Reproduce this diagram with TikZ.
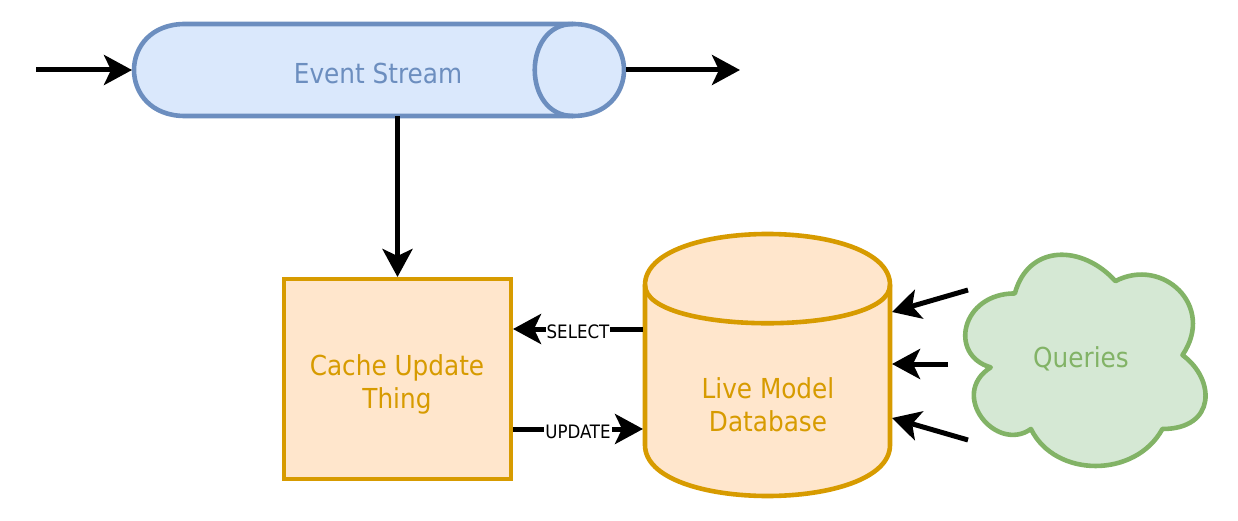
\documentclass[tikz,border=0pt]{standalone}
\usepackage{fontspec}
\newfontfamily\cond{DejaVu Sans Condensed}
\usetikzlibrary{arrows.meta,calc}
\definecolor{blueF}{HTML}{DAE8FC}
\definecolor{blueD}{HTML}{6C8EBF}
\definecolor{orangeF}{HTML}{FFE6CC}
\definecolor{orangeD}{HTML}{D79B00}
\definecolor{greenF}{HTML}{D5E8D4}
\definecolor{greenD}{HTML}{82B366}
\begin{document}
\begin{tikzpicture}[x=1pt,y=-1pt,
  holder/.style={inner sep=0pt, outer sep=0pt},
  shapeline/.style={line width=4.6pt, line join=round},
  conn/.style={line width=5pt, -{Stealth[length=28pt,width=30pt,inset=7pt]}},
  big/.style={font=\cond\fontsize{27.5}{33}\selectfont, align=center, inner sep=0pt},
  small/.style={font=\cond\fontsize{18.5}{20}\selectfont, fill=white, inner sep=1pt}
]
\useasboundingbox (0,0) rectangle (1238,521);

% ---- Event Stream (horizontal cylinder)
\draw[shapeline, draw=blueD, fill=blueF]
  (185,24) -- (573,24) .. controls (641,24) and (641,116) .. (573,116)
  -- (185,116) .. controls (117,116) and (117,24) .. (185,24) -- cycle;
\draw[shapeline, draw=blueD] (573,24) .. controls (522,24) and (522,116) .. (573,116);
\node[holder, minimum width=490pt, minimum height=92pt] (tube) at (379,70) {};
\node[big, text=blueD, anchor=base] (tubeText) at (378,83.5) {Event Stream};

% ---- Cache Update Thing
\node[holder, draw=orangeD, fill=orangeF, line width=4.6pt,
      minimum width=227pt, minimum height=200pt] (box) at (397.5,379) {};
\node[big, text=orangeD] (boxText) at (397,384.5) {Cache Update\\Thing};

% ---- Live Model Database (cylinder)
\draw[shapeline, draw=orangeD, fill=orangeF]
  (645,285) .. controls (645,217) and (890,217) .. (890,285)
  -- (890,445) .. controls (890,513) and (645,513) .. (645,445) -- cycle;
\draw[shapeline, draw=orangeD] (645,285) .. controls (645,336) and (890,336) .. (890,285);
\node[holder, minimum width=245pt, minimum height=262pt] (db) at (767.5,365) {};
\node[big, text=orangeD] (dbText) at (768,405) {Live Model\\Database};

% ---- Queries (cloud)
\draw[shapeline, draw=greenD, fill=greenF]
  (1014.85,293.43) .. controls (961.21,293.43) and (947.8,355.05) .. (990.71,367.38)
  .. controls (947.8,394.49) and (996.08,453.65) .. (1030.94,429.0)
  .. controls (1055.08,478.3) and (1135.54,478.3) .. (1162.36,429.0)
  .. controls (1216.0,429.0) and (1216.0,379.7) .. (1182.48,355.05)
  .. controls (1216.0,305.75) and (1162.36,256.45) .. (1115.43,281.1)
  .. controls (1081.9,244.13) and (1028.26,244.13) .. (1014.85,293.43) -- cycle;
\node[holder, minimum width=268pt, minimum height=246pt] (cloud) at (1081.9,355.05) {};
\node[big, text=greenD, anchor=base] (cloudText) at (1081,367) {Queries};

% ---- free ends
\coordinate (inS) at (36,70);
\coordinate (outE) at (740,70);
\coordinate (q1) at (968,290);
\coordinate (q2) at (948,364);
\coordinate (q3) at (968,440);

% ---- connectors
\draw[conn] (inS) -- ([xshift=-2pt]tube.west);
\draw[conn] ([xshift=2pt]tube.east) -- (outE);
\draw[conn] (tube.south -| box.north) -- ([yshift=2pt]box.north);
\draw[conn] ($(db.west)+(-2,-36)$) -- ($(box.east)+(2,-50)$)
  node[small, midway, yshift=-2.5pt] (selLbl) {SELECT};
\draw[conn] ($(box.east)+(2,50)$) -- ($(db.west)+(-2,64)$)
  node[small, midway, yshift=-2.5pt] (updLbl) {UPDATE};
\draw[conn] (q1) -- ($(db.east)+(2,-53)$);
\draw[conn] (q2) -- ($(db.east)+(2,-1)$);
\draw[conn] (q3) -- ($(db.east)+(2,53)$);
\end{tikzpicture}
\end{document}
